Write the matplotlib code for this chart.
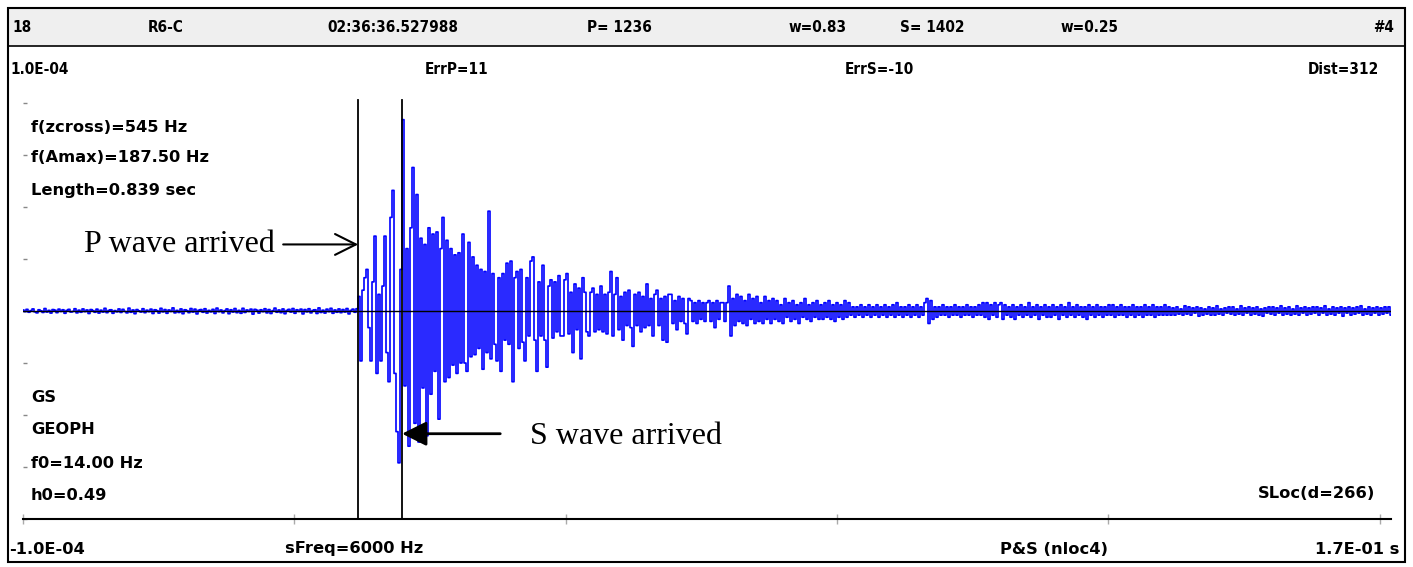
import numpy as np
import matplotlib.pyplot as plt
from matplotlib import font_manager as fm
from matplotlib.patches import Rectangle

# ground velocity, units of 1e-6, decimated trace (one value every dt seconds)
pre_p = [0.5, -0.3, 0.8, -0.6, 0.2, 1.0, -0.4, -0.9, 0.6, 0.1,
         -0.7, 1.2, -0.5, 0.3, -1.0, 0.7, 0.4, -0.8, 0.9, -0.2,
         0.6, -1.1, 0.3, 0.8, -0.5, -0.2, 1.1, -0.9, 0.4, -0.6,
         1.0, -0.3, 0.5, -1.2, 0.7, 0.2, -0.6, 0.9, -1.0, 0.4,
         -0.5, 1.3, -0.8, 0.3, 0.6, -1.1, 0.2, -0.4, 1.0, -0.7,
         0.8, -0.2, -0.9, 1.4, -0.6, 0.5, -1.3, 0.7, 0.1, -0.5,
         1.1, -0.8, 0.4, -0.3, 0.9, -1.2, 0.6, 0.2, -1.0, 1.3,
         -0.4, 0.7, -1.1, 0.5, -0.2, 1.5, -0.9, 0.3, -0.7, 1.0,
         -1.3, 0.6, 0.2, -0.8, 1.2, -0.5, 0.9, -1.4, 0.4, 0.7,
         -0.6, 1.1, -1.0, 0.3, -0.4, 0.8, -1.2, 1.4, -0.3, 0.5,
         -0.9, 0.2, 1.0, -1.3, 0.6, -0.5, 1.2, -0.8, 0.3, -1.1,
         1.3, -0.7, 0.5, -0.2, 0.9, -1.5, 0.8, 0.4, -1.0, 0.6,
         -0.3, 1.1, -0.9, 0.7, -1.2, 0.2, 1.4, -0.6, 0.5, -0.8,
         1.0, -1.3, 0.3, 0.8, -0.5, 1.2, -1.1, 0.6, -0.2, 0.9,
         -1.4, 0.7, -0.4, 1.1, -0.9, 0.3, 0.6, -1.2, 1.5, -0.7,
         0.4, -1.0, 0.9, -0.3, 1.3, -1.1, 0.5, -0.6, 1.0, -0.8,
         0.7, -0.5, 1.2, -1.4, 0.3, 0.9, -0.6, 1.1]
p_to_s = [7, -24, 10, 16, 20, -8, -24, 14, 36, -30,
          8, -24, 12, 36, -20, -34, 45, 58, -30, -58,
          -73, 20]
s_main = [92, -36, 30, -65, 40, 69, -54, 56, -63, 35,
          -37, 32, -60, 40, -40, 37, -29, 38, -52, 30,
          45, -34, 34, -32, 30, -26, 27, -30, 28, -25,
          37, -25, -29, 33, -22, 26, -21, 22, -18, 20,
          -28, 19, -20, 48, -23, 18, -16, -24, 16, -29,
          18, -14, 23, -16, 24, -34, 16, 19, -18, 20,
          -15, -24, 16, -12, 24, 26, -14, -29, 14, -12]
coda1 = [22, -14, -27, 12, 15, -13, 14, -10, 17, -12,
         -12, 15, 18, -11, 9, -20, 13, -9, 11, -23,
         16, 9, -10, -12, 9, 11, -10, 8, -9, 12,
         -10, 8, -11, 9, 19, -12, 8, 16, -9, 7,
         -14, 9, -7, 10, -8, -17, 8, -7, 9, -10,
         7, -8, 13, -7, 6, -12, 8, 10, -7, 6,
         -14, 7, -15, 8, 8, -6, 5, -9, 7, -5,
         6, -6, -11, 6, 5, -5, 4, -6, 5, -4,
         4, -5, 4, 5, -5, 4, -8, 5, -4, 4,
         4, -5, 4, 12]
coda2 = [-12, 6, -7, 8, -5, 7, -6, 5, -7, 8,
         -4, 6, -6, 7, -5, 4, -6, 7, -4, 5,
         -6, 6, -4, 5, -5, 3, -6, 6, -3, 4,
         -5, 5, -4, 3, -6, 4, -3, 6, -4, 3,
         -5, 4, -3, 5, -4, 3, -4, 4, -3, 5,
         -4, 3, -5, 4, -3, 3, -4, 5, -3, 4,
         -2, 2, -3, 2, -2, 3, -3, 2, -2, 3,
         -3, 2, -2, 3, -3, 2, -2, 3, -3, 2,
         -2, 3, -3, 4, -2, 2, -3, 2, -2, 3,
         -3, 2, -2, 3, -3, 2, -2, 4, 6, -6,
         5, -4, 2, -3, 2, -2, 3, -2, 2, -3,
         2, -2, 3, -2, 2, -3, 2, -2, 3, -2,
         2, -3, 2, -2, 3, -2, 4, -3, 4, -4,
         3, -2, 4, -3, 3]
tail = [4, -4, 3, -2, 2, -3, 3, -4, 2, -2,
        3, -3, 2, -2, 4, -3, 2, -2, 3, -4,
        2, -2, 3, -3, 2, -3, 3, -2, 2, -4,
        3, -2, 2, -3, 4, -2, 2, -3, 3, -2,
        2, -3, 2, -4, 3, -2, 2, -3, 3, -2,
        2, -3, 2, -2, 3, -2, 3, -3, 2, -2,
        3, -2, 2, -3, 2, -2, 3, -3, 2, -2,
        2, -3, 3, -2, 2, -2, 3, -3, 2, -2,
        2, -2, 3, -2, 2,
        -2, 1.5, -2, 2, -1.5, 1, -2, 2.5, -1.5, 2,
        -2, 1.5, -1, 2, -2.5, 1.5, -2, 1, -1.5, 2,
        -2, 1.5, -2, 2.5, -1.5, 1, -2, 1.5, -1, 2,
        -1.5, 2, -2, 1, -1.5, 2.5, -2, 1.5, -1, 2,
        -2, 1.5, -1.5, 2, -2, 1, -2.5, 1.5, -1, 2,
        -1.5, 2, -2, 1.5, -1, 2.5, -2, 1.5, -1.5, 2,
        -2, 1, -1.5, 2.5, -2, 1.5, -1, 2, -2, 1.5,
        -1.5, 2, -1, 2, -2, 1.5, -1, 2.5, -2, 1,
        -1.5, 2, -2, 1.5, -1, 2, -2.5, 1.5, -1, 2,
        -2, 1.5, -1.5, 2, -1, 2.5, -2, 1, -1.5, 2,
        -2, 1.5, -1, 2, -2, 1.5, -1.5, 2, -1, 2,
        -2]

dt = 2.506e-4         # s per plotted sample
t_p = 0.0420          # P pick
t_s = 0.0475          # S pick
amp_max = 1.0e-4

header = ['18', 'R6-C', '02:36:36.527988', 'P= 1236', 'w=0.83', 'S= 1402', 'w=0.25']
row2 = ['ErrP=11', 'ErrS=-10']
info_top = ['f(zcross)=545 Hz', 'f(Amax)=187.50 Hz', 'Length=0.839 sec']
info_bot = ['GS', 'GEOPH', 'f0=14.00 Hz', 'h0=0.49']

trace = np.concatenate([pre_p, p_to_s, s_main, coda1, coda2, tail]) * 1e-6
t = np.arange(len(trace)) * dt


def narrow_font():
    # header uses a condensed bold face if one is around
    fp = fm.FontProperties(family='DejaVu Sans', stretch='condensed', weight='bold')
    try:
        path = fm.findfont(fp, fallback_to_default=False)
    except ValueError:
        path = ''
    if 'Condensed' in path:
        return dict(family='DejaVu Sans', stretch='condensed', fontsize=11.0)
    return dict(family='Liberation Sans', fontsize=12.4)


W, H = 1413, 567
fig = plt.figure(figsize=(W / 100, H / 100), dpi=100)

# frame + texts in pixel coords
bg = fig.add_axes([0, 0, 1, 1])
bg.set_xlim(0, W)
bg.set_ylim(H, 0)
bg.axis('off')
bg.add_patch(Rectangle((8, 8), 1397, 38, facecolor='#efefef', edgecolor='none'))
bg.add_patch(Rectangle((8, 8), 1397, 554, facecolor='none', edgecolor='black', lw=1.5))
bg.plot([8, 1405], [46, 46], color='black', lw=1.2)

narrow = dict(weight='bold', va='center', **narrow_font())
bold = dict(family='DejaVu Sans', weight='bold', fontsize=11.7, va='center')

hx = [12, 148, 327, 587, 789, 900, 1061]
for x, s in zip(hx, header):
    bg.text(x, 28, s, ha='left', **narrow)
bg.text(1394, 28, '#4', ha='right', **narrow)

bg.text(10, 70, '1.0E-04', ha='left', **narrow)
for x, s in zip([425, 845], row2):
    bg.text(x, 70, s, ha='left', **narrow)
bg.text(1379, 70, 'Dist=312', ha='right', **narrow)

for y, s in zip([127, 158, 190], info_top):
    bg.text(31, y, s, ha='left', **bold)
for y, s in zip([398, 430, 463, 495], info_bot):
    bg.text(31, y, s, ha='left', **bold)
bg.text(1375, 494, 'SLoc(d=266)', ha='right', **bold)

bg.text(9, 549, '-1.0E-04', ha='left', **bold)
bg.text(285, 549, 'sFreq=6000 Hz', ha='left', **bold)
bg.text(1000, 549, 'P&S (nloc4)', ha='left', **bold)
bg.text(1399, 549, '1.7E-01 s', ha='right', **bold)

bg.text(275, 245, 'P wave arrived', ha='right', va='center',
        family='Liberation Serif', fontsize=23)
bg.text(530, 436, 'S wave arrived', ha='left', va='center',
        family='Liberation Serif', fontsize=23)

# seismogram
ax = fig.add_axes([23 / W, 48 / H, (1391 - 23) / W, 416 / H])
ax.patch.set_alpha(0)
ax.plot(t, trace, color='#0000ff', lw=1.2, drawstyle='steps-mid', zorder=2)
ax.axhline(0, color='black', lw=1.0, zorder=3)
for tp in (t_p, t_s):
    ax.plot([tp, tp], [-amp_max, 1.014 * amp_max], color='black', lw=1.3,
            clip_on=False, zorder=4)

ax.set_xlim(0, t[-1])
ax.set_ylim(-amp_max, amp_max)
ax.set_xticks(np.linspace(0, 0.17, 6))
ax.set_yticks(np.arange(-4, 5) * amp_max / 4)
ax.set_xticklabels([])
ax.set_yticklabels([])
for side in ['top', 'right', 'left']:
    ax.spines[side].set_visible(False)
ax.spines['bottom'].set_linewidth(1.5)
ax.tick_params(axis='x', direction='inout', length=7, width=1, color='#aaaaaa')
ax.tick_params(axis='y', direction='in', length=3, width=1, color='#888888')

ax.annotate('', xy=(t_p, 3.2e-5), xytext=(0.0326, 3.2e-5),
            arrowprops=dict(arrowstyle='->,head_length=0.6,head_width=0.3',
                            lw=1.5, color='black', mutation_scale=25,
                            shrinkA=0, shrinkB=0))
ax.annotate('', xy=(t_s, -5.9e-5), xytext=(0.0598, -5.9e-5),
            arrowprops=dict(arrowstyle='-|>,head_length=0.5,head_width=0.25',
                            lw=2, color='black', mutation_scale=30,
                            shrinkA=0, shrinkB=0))

fig.savefig('out.png', dpi=100)
